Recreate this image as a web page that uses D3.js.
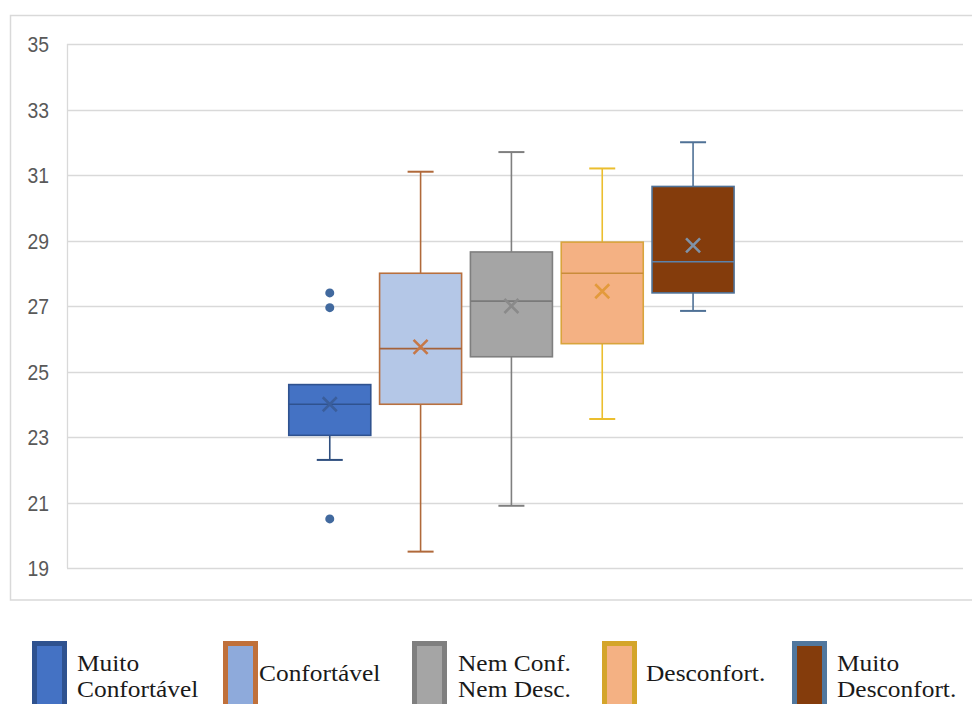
<!DOCTYPE html>
<html>
<head>
<meta charset="utf-8">
<script src="https://cdn.jsdelivr.net/npm/d3@7"></script>
<style>
  html, body { margin: 0; padding: 0; background: #fff; }
  svg { display: block; }
</style>
</head>
<body>
<svg id="chart" width="972" height="704"></svg>
<script>
// Thermal comfort classes and their box-plot statistics
const series = ["Muito Confortável", "Confortável", "Nem Conf. Nem Desc.", "Desconfort.", "Muito Desconfort."];
const legendLines = [["Muito", "Confortável"], ["Confortável"], ["Nem Conf.", "Nem Desc."], ["Desconfort."], ["Muito", "Desconfort."]];
const whiskerLow  = [22.3, 19.5, 20.9, 23.55, 26.85];
const q1          = [23.05, 24.0, 25.45, 25.85, 27.4];
const median      = [24.0, 25.7, 27.15, 28.0, 28.35];
const q3          = [24.6, 28.0, 28.65, 28.95, 30.65];
const whiskerHigh = [24.6, 31.1, 31.7, 31.2, 32.0];
const mean        = [24.0, 25.75, 27.0, 27.45, 28.85];
const outliers    = [[27.4, 26.95, 20.5], [], [], [], []];
const yTicks      = [19, 21, 23, 25, 27, 29, 31, 33, 35];

// Per-series styling
const fills     = ["#4472C4", "#B4C7E7", "#A5A5A5", "#F4B183", "#843C0C"];
const strokes   = ["#2F528F", "#B8703F", "#7F7F7F", "#D9A43C", "#4F7196"];
const whiskerC  = ["#2F4F7F", "#B0693A", "#7F7F7F", "#EBBE2E", "#4F7196"];
const medianC   = ["#2F528F", "#A5623A", "#7A7A7A", "#C98C3A", "#5B82AC"];
const meanC     = ["#3A5E9C", "#C67848", "#8A8A8A", "#E39A3C", "#7F92A8"];
const legFill   = ["#4472C4", "#8EAADB", "#A5A5A5", "#F4B183", "#843C0C"];
const legStroke = ["#2F528F", "#C0703A", "#7F7F7F", "#D4A52A", "#50779E"];

const svg = d3.select("#chart");
const plot = { left: 67, right: 963, top: 44, bottom: 568 };

// outer chart frame
svg.append("rect")
  .attr("x", 10.5).attr("y", 15.5)
  .attr("width", 975).attr("height", 584.5)
  .attr("fill", "none").attr("stroke", "#D9D9D9").attr("stroke-width", 1.5);

const y = d3.scaleLinear().domain([19, 35]).range([plot.bottom, plot.top]);

// series bands within the single category, centred slightly left of plot middle
const plotW = plot.right - plot.left;
const groupW = plotW * 0.497;
const groupC = plot.left + plotW * 0.496;
const x = d3.scaleBand()
  .domain(series)
  .range([groupC - groupW / 2, groupC + groupW / 2])
  .paddingInner(0.097)
  .paddingOuter(0);

// gridlines
svg.append("g")
  .selectAll("line")
  .data(yTicks)
  .join("line")
  .attr("x1", plot.left).attr("x2", plot.right)
  .attr("y1", d => Math.round(y(d)) + 0.5).attr("y2", d => Math.round(y(d)) + 0.5)
  .attr("stroke", "#D9D9D9").attr("stroke-width", 1.3);

// vertical axis line
svg.append("line")
  .attr("x1", plot.left + 0.5).attr("x2", plot.left + 0.5)
  .attr("y1", plot.top).attr("y2", plot.bottom)
  .attr("stroke", "#D9D9D9").attr("stroke-width", 1.3);

// y axis labels (slightly condensed digits)
const yAxis = d3.axisLeft(y).tickValues(yTicks).tickSize(0).tickPadding(0).tickFormat(d3.format("d"));
const gy = svg.append("g").attr("transform", "translate(49,0)").call(yAxis);
gy.select(".domain").remove();
gy.selectAll("text")
  .attr("font-family", "'Liberation Sans', Arial, sans-serif")
  .attr("font-size", 21.5)
  .attr("fill", "#595959")
  .attr("dy", "0.36em")
  .attr("transform", "scale(0.9,1)");

// boxes
const capW = 26;
const idx = d3.range(series.length);
const boxes = svg.append("g").selectAll("g").data(idx).join("g");

boxes.each(function(i) {
  const g = d3.select(this);
  const x0 = x(series[i]);
  const bw = x.bandwidth();
  const cx = x0 + bw / 2;

  // whiskers
  const whisk = [[whiskerHigh[i], q3[i]], [whiskerLow[i], q1[i]]];
  whisk.forEach(([end, edge]) => {
    if (Math.abs(end - edge) < 1e-9) return;
    g.append("line")
      .attr("x1", cx).attr("x2", cx)
      .attr("y1", y(end)).attr("y2", y(edge))
      .attr("stroke", whiskerC[i]).attr("stroke-width", 1.6);
    g.append("line")
      .attr("x1", cx - capW / 2).attr("x2", cx + capW / 2)
      .attr("y1", y(end)).attr("y2", y(end))
      .attr("stroke", whiskerC[i]).attr("stroke-width", 2);
  });

  // box
  g.append("rect")
    .attr("x", x0).attr("y", y(q3[i]))
    .attr("width", bw).attr("height", y(q1[i]) - y(q3[i]))
    .attr("fill", fills[i]).attr("stroke", strokes[i]).attr("stroke-width", 1.6);

  // median
  g.append("line")
    .attr("x1", x0).attr("x2", x0 + bw)
    .attr("y1", y(median[i])).attr("y2", y(median[i]))
    .attr("stroke", medianC[i]).attr("stroke-width", 1.6);

  // mean marker
  const m = 7, my = y(mean[i]);
  g.append("path")
    .attr("d", `M${cx - m},${my - m}L${cx + m},${my + m}M${cx - m},${my + m}L${cx + m},${my - m}`)
    .attr("stroke", meanC[i]).attr("stroke-width", 2.6).attr("fill", "none");

  // outliers
  g.selectAll("circle")
    .data(outliers[i])
    .join("circle")
    .attr("cx", cx).attr("cy", d => y(d)).attr("r", 4.5)
    .attr("fill", "#41699E");
});

// legend
const legX = [32, 223, 412, 602, 792];
const legTextX = [77, 259, 458, 646, 837];
const leg = svg.append("g").selectAll("g").data(idx).join("g");
leg.append("rect")
  .attr("x", i => legX[i] + 2.5).attr("y", 643.5)
  .attr("width", 30).attr("height", 70)
  .attr("fill", i => legFill[i])
  .attr("stroke", i => legStroke[i]).attr("stroke-width", 5);
leg.each(function(i) {
  const lines = legendLines[i];
  const base = lines.length === 1 ? [681] : [671, 697];
  d3.select(this).selectAll("text")
    .data(lines)
    .join("text")
    .attr("transform", (d, k) => `translate(${legTextX[i]},${base[k]}) scale(1.13,1)`)
    .attr("font-family", "'Liberation Serif', 'Times New Roman', serif")
    .attr("font-size", 22.5)
    .attr("fill", "#1a1a1a")
    .text(d => d);
});
</script>
</body>
</html>
